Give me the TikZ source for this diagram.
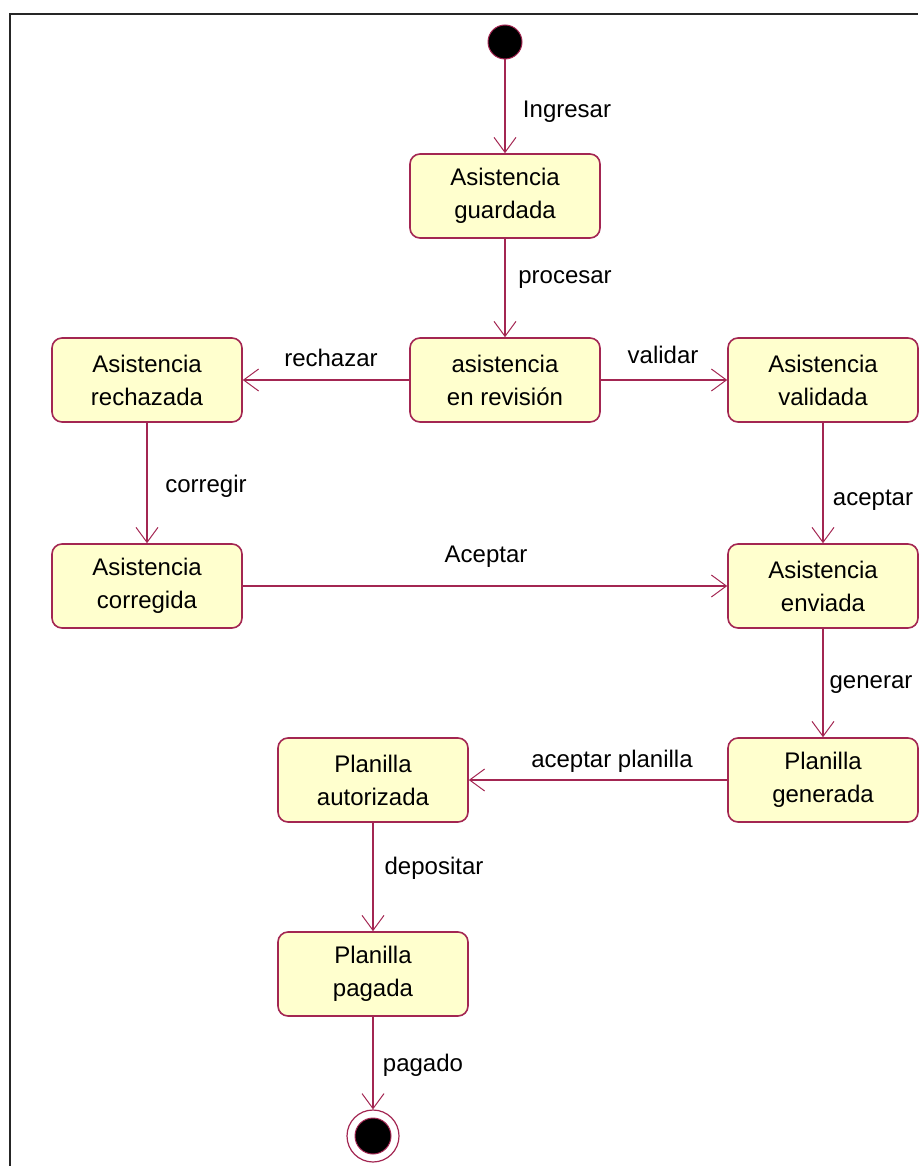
\documentclass[tikz,border=0pt]{standalone}
\usepackage{fontspec}
\setmainfont{Liberation Sans}
\usetikzlibrary{arrows.meta}
\definecolor{umlred}{RGB}{163,38,82}
\definecolor{umlfill}{RGB}{255,255,206}
\tikzset{
  state/.style={draw=umlred, fill=umlfill, line width=1.6pt, rounded corners=10pt,
    minimum width=190pt, minimum height=84pt, align=center, inner sep=0pt,
    font=\fontsize{24}{33}\selectfont},
  trans/.style={draw=umlred, line width=1.4pt, -{Straight Barb[length=15pt,width=22pt,line width=1pt]}},
  lbl/.style={font=\fontsize{24}{28}\selectfont, inner sep=0pt},
  initst/.style={circle, draw=umlred, fill=black, line width=1pt, minimum size=34pt, inner sep=0pt},
  finalst/.style={circle, draw=umlred, fill=white, line width=1.2pt, minimum size=52pt, inner sep=0pt},
  finalin/.style={circle, draw=umlred, fill=black, line width=1pt, minimum size=36pt, inner sep=0pt}
}
\begin{document}
\begin{tikzpicture}[x=1pt,y=-1pt]
\useasboundingbox (0,0) rectangle (918,1166);
\draw[line width=2.5pt, black!85] (10,1166) -- (10,14) -- (918,14);

\node[initst] (init) at (505,42) {};
\node[state] (guard) at (505,196) {Asistencia\\guardada};
\node[state] (rev) at (505,380) {asistencia\\en revisión};
\node[state] (rech) at (147,380) {Asistencia\\rechazada};
\node[state] (val) at (823,380) {Asistencia\\validada};
\node[state] (corr) at (147,586) {Asistencia\\corregida};
\node[state] (env) at (823,586) {Asistencia\\enviada};
\node[state] (gen) at (823,780) {Planilla\\generada};
\node[state] (aut) at (373,780) {Planilla\\autorizada};
\node[state] (pag) at (373,974) {Planilla\\pagada};
\node[finalst] (fin) at (373,1136) {};
\node[finalin] (finin) at (373,1136) {};

\draw[trans] (init) -- (guard);
\draw[trans] (guard) -- (rev);
\draw[trans] (rev) -- (rech);
\draw[trans] (rev) -- (val);
\draw[trans] (rech) -- (corr);
\draw[trans] (val) -- (env);
\draw[trans] (corr) -- (env);
\draw[trans] (env) -- (gen);
\draw[trans] (gen) -- (aut);
\draw[trans] (aut) -- (pag);
\draw[trans] (pag) -- (fin);

\node[lbl] (l1) at (567,112) {Ingresar};
\node[lbl] (l2) at (565,280) {procesar};
\node[lbl] (l3) at (331,358) {rechazar};
\node[lbl] (l4) at (663,355) {validar};
\node[lbl] (l5) at (206,486) {corregir};
\node[lbl] (l6) at (873,500) {aceptar};
\node[lbl] (l7) at (486,557) {Aceptar};
\node[lbl] (l8) at (871,685) {generar};
\node[lbl] (l9) at (612,761) {aceptar planilla};
\node[lbl] (l10) at (434,868) {depositar};
\node[lbl] (l11) at (423,1065) {pagado};
\end{tikzpicture}
\end{document}
